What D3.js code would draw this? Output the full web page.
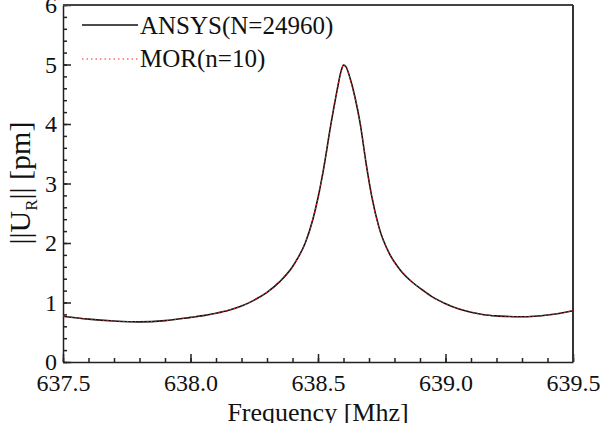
<!DOCTYPE html>
<html>
<head>
<meta charset="utf-8">
<script src="https://cdn.jsdelivr.net/npm/d3@7"></script>
<style>
body {margin: 0; background: #fff;}
.axis path, .axis line {stroke: #222; stroke-width: 1.5;}
</style>
</head>
<body>
<svg width="607" height="423"></svg>
<script>
// frequencies (MHz)
var freq = [637.50, 637.60, 637.70, 637.80, 637.90, 638.00, 638.05, 638.10, 638.15, 638.20,
            638.25, 638.30, 638.35, 638.40, 638.42, 638.45, 638.48, 638.50, 638.52, 638.55,
            638.575, 638.59, 638.60, 638.61, 638.625, 638.645, 638.665, 638.69, 638.71, 638.74,
            638.78, 638.82, 638.87, 638.91, 638.95, 639.00, 639.05, 639.10, 639.15, 639.20,
            639.25, 639.30, 639.35, 639.40, 639.45, 639.50];

// ANSYS full model
var ansys = [0.77, 0.72, 0.69, 0.675, 0.695, 0.75, 0.78, 0.82, 0.87, 0.94,
             1.04, 1.17, 1.35, 1.60, 1.74, 2.00, 2.40, 2.76, 3.20, 3.98,
             4.57, 4.88, 4.99, 4.96, 4.78, 4.45, 4.02, 3.30, 2.80, 2.25,
             1.82, 1.56, 1.34, 1.21, 1.09, 0.98, 0.895, 0.835, 0.795, 0.775,
             0.765, 0.76, 0.77, 0.79, 0.82, 0.86];

// reduced model (overlaps the ANSYS curve)
var mor = [0.77, 0.72, 0.69, 0.675, 0.695, 0.75, 0.78, 0.82, 0.87, 0.94,
           1.04, 1.17, 1.35, 1.60, 1.74, 2.00, 2.40, 2.76, 3.20, 3.98,
           4.57, 4.88, 4.99, 4.96, 4.78, 4.45, 4.02, 3.30, 2.80, 2.25,
           1.82, 1.56, 1.34, 1.21, 1.09, 0.98, 0.895, 0.835, 0.795, 0.775,
           0.765, 0.76, 0.77, 0.79, 0.82, 0.86];

var xTicks = [637.5, 638.0, 638.5, 639.0, 639.5];
var yTicks = [0, 1, 2, 3, 4, 5, 6];
var legendNames = ["ANSYS(N=24960)", "MOR(n=10)"];

var serif = "'Liberation Serif', 'Times New Roman', serif";
var svg = d3.select("svg");
var mLeft = 63, mRight = 573, mTop = 5, mBottom = 362;

var x = d3.scaleLinear().domain([637.5, 639.5]).range([mLeft, mRight]);
var y = d3.scaleLinear().domain([0, 6]).range([mBottom, mTop]);

/// minor ticks
var xMinor = d3.range(0, 21).map(function(i) { return 637.5 + i * 0.1; });
var yMinor = d3.range(0, 31).map(function(i) { return i * 0.2; });

svg.append("g").attr("class", "axis")
	.attr("transform", "translate(0," + mBottom + ")")
	.call(d3.axisBottom(x).tickValues(xMinor).tickSize(-4).tickFormat(""))
	.select(".domain").remove();
svg.append("g").attr("class", "axis")
	.attr("transform", "translate(" + mLeft + ",0)")
	.call(d3.axisLeft(y).tickValues(yMinor).tickSize(-4).tickFormat(""))
	.select(".domain").remove();

/// major ticks
var gx = svg.append("g").attr("class", "axis")
	.attr("transform", "translate(0," + mBottom + ")")
	.call(d3.axisBottom(x).tickValues(xTicks).tickSize(-8).tickSizeOuter(0).tickPadding(12)
		.tickFormat(d3.format(".1f")));
gx.attr("font-family", serif).attr("font-size", 24);
gx.selectAll("text").attr("fill", "#111").attr("dy", "0.71em");

var gy = svg.append("g").attr("class", "axis")
	.attr("transform", "translate(" + mLeft + ",0)")
	.call(d3.axisLeft(y).tickValues(yTicks).tickSize(-8).tickSizeOuter(0).tickPadding(6)
		.tickFormat(d3.format("d")));
gy.attr("font-family", serif).attr("font-size", 24);
gy.selectAll("text").attr("fill", "#111");

/// top and right frame
svg.append("line").attr("x1", mLeft).attr("x2", mRight).attr("y1", mTop).attr("y2", mTop)
	.attr("stroke", "#444").attr("stroke-width", 2);
svg.append("line").attr("x1", mRight).attr("x2", mRight).attr("y1", mTop).attr("y2", mBottom)
	.attr("stroke", "#333").attr("stroke-width", 2);

/// curves
var pts = function(vals) { return freq.map(function(f, i) { return [f, vals[i]]; }); };
var line = d3.line()
	.x(function(d) { return x(d[0]); })
	.y(function(d) { return y(d[1]); })
	.curve(d3.curveMonotoneX);

svg.append("path").datum(pts(ansys)).attr("d", line)
	.attr("fill", "none").attr("stroke", "#111").attr("stroke-width", 1.6);
svg.append("path").datum(pts(mor)).attr("d", line)
	.attr("fill", "none").attr("stroke", "#ff2020").attr("stroke-width", 1)
	.attr("stroke-dasharray", "1.5,2.5");

/// legend
var lg = svg.append("g");
lg.append("line").attr("x1", 82).attr("x2", 138).attr("y1", 25).attr("y2", 25)
	.attr("stroke", "#111").attr("stroke-width", 1.3);
lg.append("line").attr("x1", 82).attr("x2", 138).attr("y1", 59).attr("y2", 59)
	.attr("stroke", "#ff2020").attr("stroke-width", 1.2).attr("stroke-dasharray", "1.5,3");
lg.selectAll("text.leg").data(legendNames).enter().append("text")
	.attr("class", "leg")
	.attr("x", 140)
	.attr("y", function(d, i) { return 34 + i * 33; })
	.attr("font-family", serif)
	.attr("font-size", 25)
	.attr("fill", "#111")
	.text(function(d) { return d; });

/// axis titles
svg.append("text")
	.attr("x", (mLeft + mRight) / 2).attr("y", 421)
	.attr("text-anchor", "middle")
	.attr("font-family", serif)
	.attr("font-size", 26)
	.attr("fill", "#111")
	.text("Frequency [Mhz]");

var yl = svg.append("text")
	.attr("transform", "translate(30,183) rotate(-90)")
	.attr("text-anchor", "middle")
	.attr("font-family", serif)
	.attr("font-size", 30)
	.attr("fill", "#111");
yl.append("tspan").text("||U");
yl.append("tspan").attr("dy", 7).attr("font-size", 17).text("R");
yl.append("tspan").attr("dy", -7).text("|| [pm]");
</script>
</body>
</html>
